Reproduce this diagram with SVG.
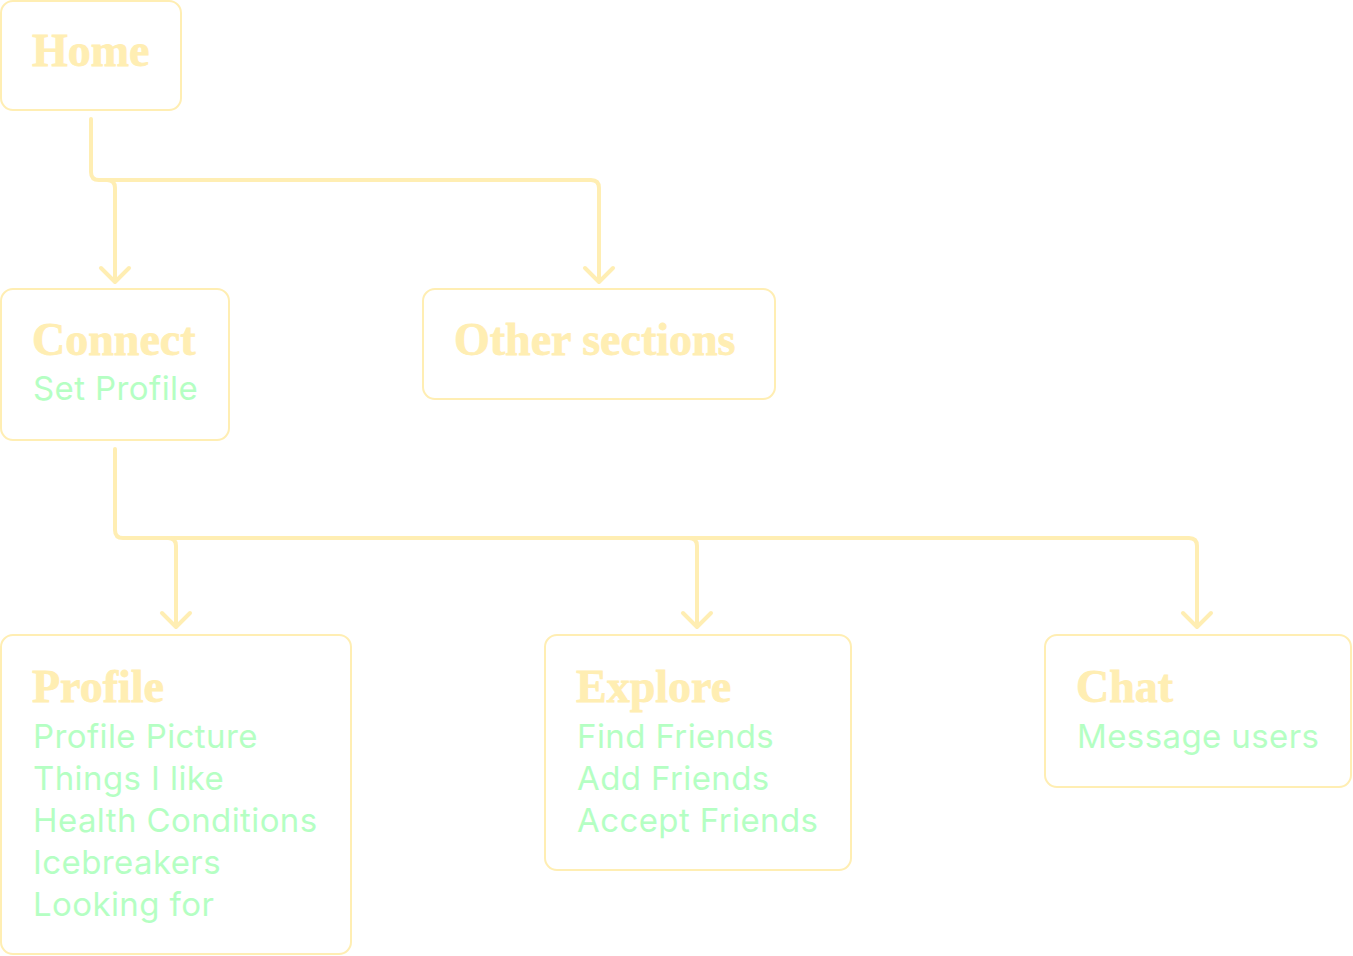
<svg xmlns="http://www.w3.org/2000/svg" width="1353" height="956" viewBox="0 0 1353 956">
<style>
.box{fill:none;stroke:#FFEEB3;stroke-width:2}
.t{font-family:"Liberation Serif","DejaVu Serif",serif;font-weight:bold;font-size:46px;fill:#FFEEB3;stroke:#FFEEB3;stroke-width:0.8}
.b{font-family:Inter,"Liberation Sans",sans-serif;font-size:33px;letter-spacing:0.4px;fill:#B5FFC3}
.c{fill:none;stroke:#FFEEB3;stroke-width:4;stroke-linecap:round;stroke-linejoin:round}
</style>
<rect width="1353" height="956" fill="#FFFFFF"/>
<g id="connectors" class="c">
<path d="M91 119 V172 Q91 180 99 180 H591 Q599 180 599 188 V281"/>
<path d="M107 180 Q115 180 115 188 V281"/>
<path d="M101 268 L115 282 L129 268"/>
<path d="M585 268 L599 282 L613 268"/>
<path d="M115 449 V530 Q115 538 123 538 H1189 Q1197 538 1197 546 V626"/>
<path d="M168 538 Q176 538 176 546 V626"/>
<path d="M689 538 Q697 538 697 546 V626"/>
<path d="M162 613 L176 627 L190 613"/>
<path d="M683 613 L697 627 L711 613"/>
<path d="M1183 613 L1197 627 L1211 613"/>
</g>
<g id="home">
<rect class="box" x="1" y="1" width="180" height="109" rx="12"/>
<text class="t" x="32" y="66">Home</text>
</g>
<g id="connect">
<rect class="box" x="1" y="289" width="228" height="151" rx="12"/>
<text class="t" x="32" y="355">Connect</text>
<text class="b" x="33" y="400">Set Profile</text>
</g>
<g id="other">
<rect class="box" x="423" y="289" width="352" height="110" rx="12"/>
<text class="t" x="454" y="355">Other sections</text>
</g>
<g id="profile">
<rect class="box" x="1" y="635" width="350" height="319" rx="12"/>
<text class="t" x="32" y="702">Profile</text>
<text class="b" x="33" y="748">Profile Picture</text>
<text class="b" x="33" y="790">Things I like</text>
<text class="b" x="33" y="832">Health Conditions</text>
<text class="b" x="33" y="874">Icebreakers</text>
<text class="b" x="33" y="916">Looking for</text>
</g>
<g id="explore">
<rect class="box" x="545" y="635" width="306" height="235" rx="12"/>
<text class="t" x="576" y="702">Explore</text>
<text class="b" x="577" y="748">Find Friends</text>
<text class="b" x="577" y="790">Add Friends</text>
<text class="b" x="577" y="832">Accept Friends</text>
</g>
<g id="chat">
<rect class="box" x="1045" y="635" width="306" height="152" rx="12"/>
<text class="t" x="1076" y="702">Chat</text>
<text class="b" x="1077" y="748">Message users</text>
</g>
</svg>
